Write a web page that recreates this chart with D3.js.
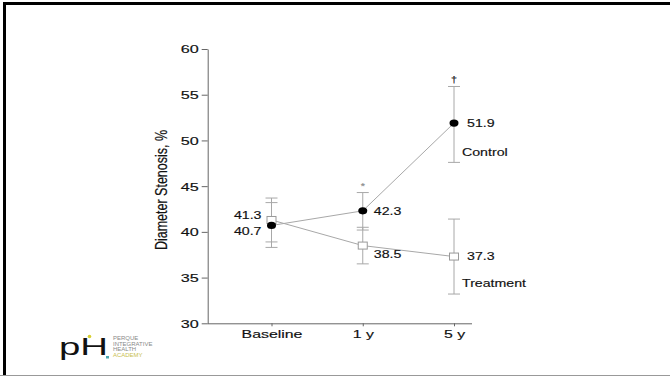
<!DOCTYPE html>
<html>
<head>
<meta charset="utf-8">
<script src="https://cdn.jsdelivr.net/npm/d3@7"></script>
<style>
  body { margin: 0; background: #fff; }
  svg { display: block; font-family: "Liberation Sans", Arial, Helvetica, sans-serif; }
</style>
</head>
<body>
<svg id="chart" width="670" height="376"></svg>
<script>
// values
const timepoints = ["Baseline", "1 y", "5 y"];
const controlMean = [40.7, 42.3, 51.9];
const controlHigh = [43.2, 44.3, 55.9];
const controlLow = [38.3, 40.2, 47.6];
const treatmentMean = [41.3, 38.5, 37.3];
const treatmentHigh = [43.7, 40.5, 41.4];
const treatmentLow = [38.9, 36.5, 33.2];
const marks = ["", "*", "\u2020"];
const yTicks = [30, 35, 40, 45, 50, 55, 60];

const svg = d3.select("#chart");
const stretch = 1.35; // source picture is wide-stretched, text too

// frame
svg.append("path")
  .attr("d", "M4.5,376V3.5H670")
  .attr("fill", "none")
  .attr("stroke", "#000")
  .attr("stroke-width", 3);
svg.append("line")
  .attr("x1", 0).attr("x2", 670).attr("y1", 375.5).attr("y2", 375.5)
  .attr("stroke", "#999").attr("stroke-width", 1);

const x = d3.scalePoint().domain(timepoints).range([271.5, 454]);
const y = d3.scaleLinear().domain([30, 60]).range([323.3, 49]);

function label(g, tx, ty, txt, size, anchor, sx) {
  return g.append("text")
    .attr("transform", "translate(" + tx + "," + ty + ") scale(" + (sx || stretch) + ",1)")
    .attr("dy", "0.36em")
    .attr("text-anchor", anchor || "start")
    .attr("font-size", size)
    .attr("fill", "#111")
    .attr("stroke", "#111")
    .attr("stroke-width", 0.15)
    .text(txt);
}

// axes
const axisColor = "#666";
const yAxis = svg.append("g")
  .attr("transform", "translate(207.7,0)")
  .call(d3.axisLeft(y).tickValues(yTicks).tickSize(6).tickSizeOuter(0));
yAxis.selectAll("path, line").attr("stroke", axisColor);
yAxis.selectAll("text").remove();
yAxis.selectAll(".tick").each(function (d) {
  label(d3.select(this), -9, 0, d, 10.8, "end", 1.5);
});

const xAxis = svg.append("g")
  .attr("transform", "translate(0,323.3)")
  .call(d3.axisBottom(x).tickSize(3).tickSizeOuter(0));
xAxis.select(".domain").attr("d", "M207.7,0.5H472");
xAxis.selectAll("path, line").attr("stroke", axisColor);
xAxis.selectAll("text").remove();
xAxis.selectAll(".tick").each(function (d) {
  label(d3.select(this), 0, 10.5, d, 10.8, "middle", 1.47);
});

label(svg, 0, 0, "Diameter Stenosis, %", 12.5, "middle", 1)
  .attr("transform", "translate(161,190) rotate(-90) scale(1," + stretch + ")");

// series
const lineColor = "#a8a8a8";
const series = [
  { key: "control", mean: controlMean, high: controlHigh, low: controlLow },
  { key: "treatment", mean: treatmentMean, high: treatmentHigh, low: treatmentLow }
];
const line = d3.line().x((d, i) => x(timepoints[i])).y((d) => y(d));

series.forEach((s) => {
  const g = svg.append("g").attr("class", s.key);
  const bars = g.selectAll("g.err")
    .data(timepoints)
    .enter()
    .append("g")
    .attr("stroke", lineColor)
    .attr("stroke-width", 1);
  bars.append("line")
    .attr("x1", (d) => x(d)).attr("x2", (d) => x(d))
    .attr("y1", (d, i) => y(s.high[i])).attr("y2", (d, i) => y(s.low[i]));
  bars.append("line")
    .attr("x1", (d) => x(d) - 6).attr("x2", (d) => x(d) + 6)
    .attr("y1", (d, i) => y(s.high[i])).attr("y2", (d, i) => y(s.high[i]));
  bars.append("line")
    .attr("x1", (d) => x(d) - 6).attr("x2", (d) => x(d) + 6)
    .attr("y1", (d, i) => y(s.low[i])).attr("y2", (d, i) => y(s.low[i]));
});

series.forEach((s) => {
  svg.append("path")
    .datum(s.mean)
    .attr("d", line)
    .attr("fill", "none")
    .attr("stroke", lineColor)
    .attr("stroke-width", 1);
});

svg.append("g").selectAll("rect")
  .data(treatmentMean)
  .enter()
  .append("rect")
  .attr("x", (d, i) => x(timepoints[i]) - 4.5)
  .attr("y", (d) => y(d) - 3.5)
  .attr("width", 9)
  .attr("height", 7)
  .attr("fill", "#fff")
  .attr("stroke", "#999");

svg.append("g").selectAll("ellipse")
  .data(controlMean)
  .enter()
  .append("ellipse")
  .attr("cx", (d, i) => x(timepoints[i]))
  .attr("cy", (d) => y(d))
  .attr("rx", 4.5)
  .attr("ry", 3.6)
  .attr("fill", "#000");

// value labels
const ann = svg.append("g");
const cOff = [[-10, 6, "end"], [11, 0, "start"], [13, 0, "start"]];
const tOff = [[-10, -5, "end"], [11, 9, "start"], [13, 0, "start"]];
controlMean.forEach((v, i) => {
  label(ann, x(timepoints[i]) + cOff[i][0], y(v) + cOff[i][1], v.toFixed(1), 10.5, cOff[i][2]);
});
treatmentMean.forEach((v, i) => {
  label(ann, x(timepoints[i]) + tOff[i][0], y(v) + tOff[i][1], v.toFixed(1), 10.5, tOff[i][2]);
});
label(ann, x("5 y") + 8, y(controlMean[2]) + 29, "Control", 10.5);
label(ann, x("5 y") + 8, y(treatmentMean[2]) + 27, "Treatment", 10.5);

// significance marks above the bars
marks.forEach((m, i) => {
  if (!m) return;
  label(ann, x(timepoints[i]), y(controlHigh[i]) - 7, m, 9, "middle", 1.2)
    .attr("fill", m === "*" ? "#888" : "#111")
    .attr("stroke", m === "*" ? "#888" : "#111");
});

// logo
const logo = svg.append("g");
logo.append("text")
  .attr("transform", "translate(59,355) scale(1.6,1)")
  .attr("font-size", 24)
  .attr("fill", "#111")
  .text("pH");
logo.append("circle").attr("cx", 89.5).attr("cy", 336.5).attr("r", 1.8).attr("fill", "#d8d030");
logo.append("rect").attr("x", 106).attr("y", 356).attr("width", 3).attr("height", 2.5).attr("fill", "#4aa8b0");
const logoWords = ["PERQUE", "INTEGRATIVE", "HEALTH", "ACADEMY"];
logoWords.forEach((w, i) => {
  logo.append("text")
    .attr("transform", "translate(113," + (340 + i * 5.5) + ") scale(1.3,1)")
    .attr("font-size", 4.6)
    .attr("fill", i === 3 ? "#c9c050" : "#8a8a8a")
    .text(w);
});
</script>
</body>
</html>
